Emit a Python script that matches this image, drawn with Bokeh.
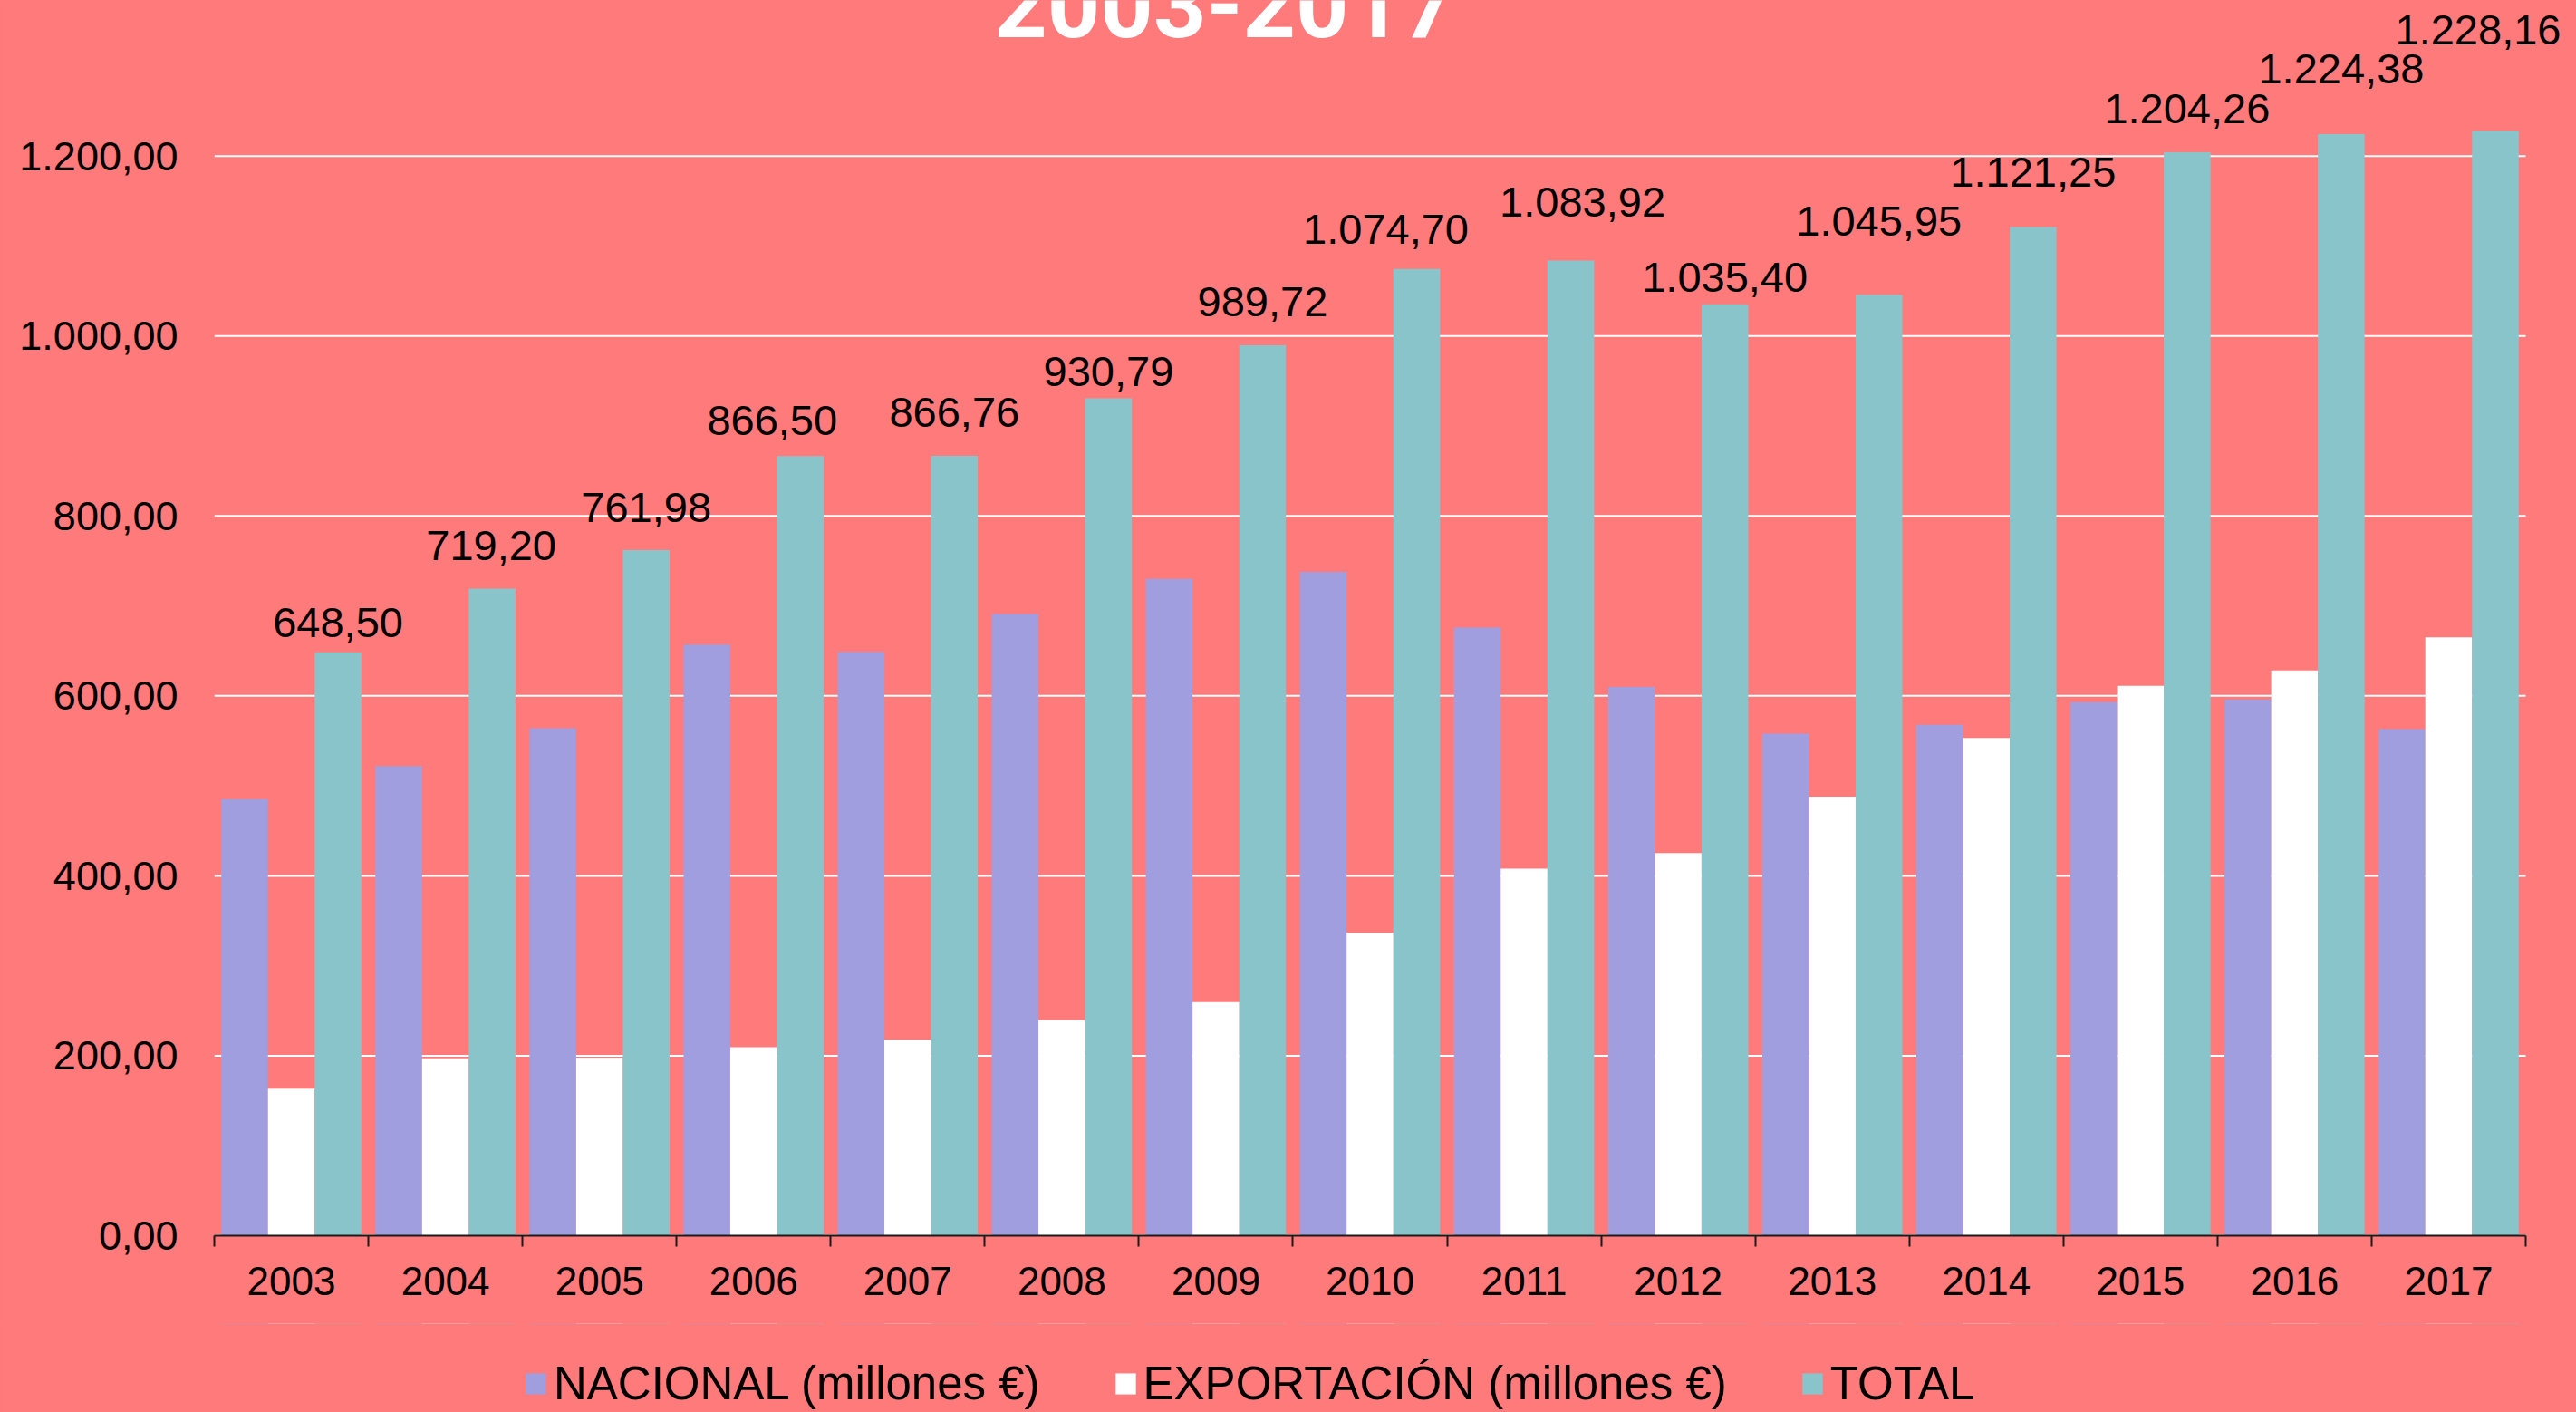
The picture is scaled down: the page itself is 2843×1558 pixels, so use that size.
from bokeh.plotting import figure
from bokeh.layouts import column
from bokeh.models import FixedTicker, Legend, LegendItem, Label, ColumnDataSource, Range1d
from bokeh.embed import file_html
from bokeh.resources import INLINE
from bokeh.core.properties import value

# ---------------- data ----------------
years = ["2003", "2004", "2005", "2006", "2007", "2008", "2009", "2010",
         "2011", "2012", "2013", "2014", "2015", "2016", "2017"]
nacional = [485.0, 522.0, 564.0, 657.0, 649.0, 691.0, 730.0, 738.0,
            676.0, 610.0, 558.0, 568.0, 593.0, 596.0, 563.0]
exportacion = [163.5, 197.2, 198.0, 209.5, 217.8, 239.8, 259.7, 336.7,
               407.9, 425.4, 488.0, 553.3, 611.3, 628.4, 665.2]
total = [648.50, 719.20, 761.98, 866.50, 866.76, 930.79, 989.72, 1074.70,
         1083.92, 1035.40, 1045.95, 1121.25, 1204.26, 1224.38, 1228.16]
total_labels = ["648,50", "719,20", "761,98", "866,50", "866,76", "930,79",
                "989,72", "1.074,70", "1.083,92", "1.035,40", "1.045,95",
                "1.121,25", "1.204,26", "1.224,38", "1.228,16"]
y_ticks = [0, 200, 400, 600, 800, 1000, 1200]
y_tick_labels = ["0,00", "200,00", "400,00", "600,00", "800,00", "1.000,00", "1.200,00"]
series_names = ["NACIONAL (millones €)", "EXPORTACIÓN (millones €)", "TOTAL"]
title_text = "2003-2017"

# manual nudges of the data labels (pixels), as placed in the original
label_dx = [0, -1, 0, -31, 0, 0, 0, -34, 13, 0, 0, 0, 0, 0, -19]
label_gap = [15, 30, 29, 21, 30, 11, 30, 26, 46, 12, 63, 42, 30, 54, 93]
LABEL_LIFT = 18

# ---------------- style ----------------
BG = "#FF7A7A"
C_NAC = "#A09EDE"
C_EXP = "#FFFFFF"
C_TOT = "#8AC4CB"
FONT = "Liberation Sans"

W = 2843
H_MAIN, H_LEG = 1460, 98
BORDER_L, BORDER_T, BORDER_B = 236, 0, 97
PLOT_RIGHT = 2787            # right end of the category axis, px
Y_MAX = 1373
FRAME_H = H_MAIN - BORDER_T - BORDER_B
PPU = FRAME_H / Y_MAX
BAR_W = 0.303

n = len(years)
idx = list(range(n))
cat_px = (PLOT_RIGHT - BORDER_L) / n
x_end = -0.5 + (W - BORDER_L) / cat_px   # frame runs to the canvas edge so labels are not clipped

p = figure(width=W, height=H_MAIN, output_backend="svg", toolbar_location=None,
           x_range=Range1d(-0.5, x_end), y_range=Range1d(0, Y_MAX),
           min_border_left=BORDER_L, min_border_right=0,
           min_border_top=BORDER_T, min_border_bottom=BORDER_B)
p.background_fill_color = BG
p.border_fill_color = BG
p.outline_line_color = None

src = ColumnDataSource(dict(
    x_nac=[i - BAR_W for i in idx],
    x_exp=[i for i in idx],
    x_tot=[i + BAR_W for i in idx],
    nacional=nacional, exportacion=exportacion, total=total,
    lab=total_labels,
    lab_y=[t + (g + LABEL_LIFT) / PPU for t, g in zip(total, label_gap)],
    lab_dx=label_dx,
))

# horizontal gridlines limited to the category span
p.segment(x0=[-0.5] * len(y_ticks), x1=[n - 0.5] * len(y_ticks),
          y0=y_ticks, y1=y_ticks, line_color="#FFFFFF", line_width=2,
          level="underlay")

r_nac = p.vbar(x="x_nac", top="nacional", width=BAR_W, source=src,
               fill_color=C_NAC, line_color=None)
r_exp = p.vbar(x="x_exp", top="exportacion", width=BAR_W, source=src,
               fill_color=C_EXP, line_color=None)
r_tot = p.vbar(x="x_tot", top="total", width=BAR_W, source=src,
               fill_color=C_TOT, line_color=None)

p.text(x="x_tot", y="lab_y", text="lab", x_offset="lab_dx", source=src,
       text_align="center", text_baseline="alphabetic",
       text_font=value(FONT), text_font_size="47px", text_color="#000000")

p.xgrid.visible = False
p.ygrid.visible = False

# y axis
p.yaxis.ticker = FixedTicker(ticks=y_ticks)
p.yaxis.major_label_overrides = {t: l for t, l in zip(y_ticks, y_tick_labels)}
p.yaxis.axis_line_color = None
p.yaxis.major_tick_line_color = None
p.yaxis.minor_tick_line_color = None
p.yaxis.major_tick_out = 0
p.yaxis.major_tick_in = 0
p.yaxis.major_label_standoff = 40
p.yaxis.major_label_text_font = FONT
p.yaxis.major_label_text_font_size = "45px"
p.yaxis.major_label_text_color = "#000000"

# x axis
p.xaxis.bounds = (-0.5, n - 0.5)
p.xaxis.ticker = FixedTicker(ticks=idx, minor_ticks=[i - 0.5 for i in range(n + 1)])
p.xaxis.major_label_overrides = {i: y for i, y in zip(idx, years)}
p.xaxis.axis_line_color = "#1A1A1A"
p.xaxis.axis_line_width = 2
p.xaxis.major_tick_line_color = None
p.xaxis.major_tick_out = 0
p.xaxis.major_tick_in = 0
p.xaxis.minor_tick_line_color = "#1A1A1A"
p.xaxis.minor_tick_line_width = 2
p.xaxis.minor_tick_out = 12
p.xaxis.minor_tick_in = 0
p.xaxis.major_label_standoff = 22
p.xaxis.major_label_text_font = FONT
p.xaxis.major_label_text_font_size = "44px"
p.xaxis.major_label_text_color = "#000000"

# title (cropped at the top in the original)
title = Label(x=1115, y=1359, x_units="screen", y_units="screen",
              text=title_text, text_align="center", text_baseline="alphabetic",
              text_font="Roboto", text_font_style="bold", text_font_size="102px",
              text_color="#FFFFFF")
p.add_layout(title)

# ---------------- legend strip ----------------
pl = figure(width=W, height=H_LEG, output_backend="svg", toolbar_location=None,
            x_range=Range1d(-0.5, x_end), y_range=Range1d(0, 1),
            x_axis_location=None, y_axis_location=None,
            min_border=0)
pl.background_fill_color = BG
pl.border_fill_color = BG
pl.outline_line_color = None
pl.grid.visible = False
# zero-height copies of the series: they only feed the legend swatches
lg_nac = pl.vbar(x="x_nac", top="nacional", bottom="nacional", width=BAR_W, source=src,
                 fill_color=C_NAC, line_color=None)
lg_exp = pl.vbar(x="x_exp", top="exportacion", bottom="exportacion", width=BAR_W, source=src,
                 fill_color=C_EXP, line_color=None)
lg_tot = pl.vbar(x="x_tot", top="total", bottom="total", width=BAR_W, source=src,
                 fill_color=C_TOT, line_color=None)

legend = Legend(items=[LegendItem(label=series_names[0], renderers=[lg_nac]),
                       LegendItem(label=series_names[1], renderers=[lg_exp]),
                       LegendItem(label=series_names[2], renderers=[lg_tot])],
                orientation="horizontal", location=(341, 2))
legend.background_fill_alpha = 0
legend.border_line_color = None
legend.padding = 0
legend.margin = 0
legend.spacing = 80
legend.label_standoff = 6
legend.glyph_width = 28
legend.glyph_height = 29
legend.label_text_font = FONT
legend.label_text_font_size = "51px"
legend.label_text_color = "#000000"
pl.add_layout(legend, "center")

layout = column(p, pl, spacing=0)

html = file_html(layout, INLINE, title="2003-2017")
html = html.replace("<head>", "<head><style>html,body{background:#FF7A7A;}</style>", 1)
open("out.html", "w").write(html)
